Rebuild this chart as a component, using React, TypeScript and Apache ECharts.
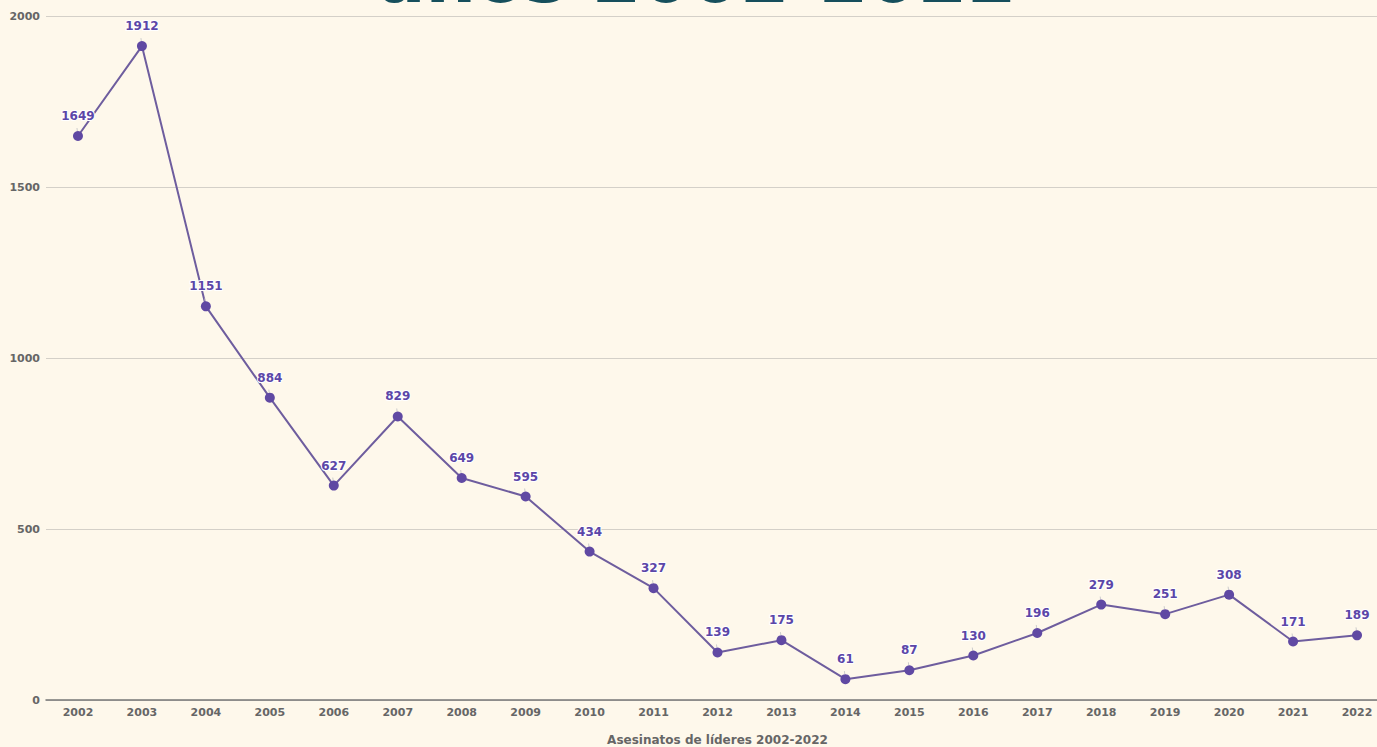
import React, { useEffect, useRef } from "react";
import * as echarts from "echarts";

const years = ["2002","2003","2004","2005","2006","2007","2008","2009","2010","2011","2012","2013","2014","2015","2016","2017","2018","2019","2020","2021","2022"];
const asesinatos = [1649,1912,1151,884,627,829,649,595,434,327,139,175,61,87,130,196,279,251,308,171,189];
const titleText = "años 2002-2022";
const xAxisName = "Asesinatos de líderes 2002-2022";

export default function App() {
  const ref = useRef<HTMLDivElement>(null);
  useEffect(() => {
    if (!ref.current) return;
    const chart = echarts.init(ref.current, undefined, { renderer: "svg" });
    chart.setOption({
      animation: false,
      backgroundColor: "#fef8eb",
      textStyle: { fontFamily: "DejaVu Sans" },
      graphic: [
        {
          type: "text",
          x: 697,
          y: 13,
          z: 100,
          style: {
            text: titleText,
            fontSize: 71,
            fontWeight: "bold",
            fontFamily: "DejaVu Sans",
            fill: "#164f5c",
            align: "center",
            verticalAlign: "bottom",
          },
        },
      ],
      grid: { left: 46, right: 0, top: 16, bottom: 47, containLabel: false, outerBoundsMode: "none" },
      xAxis: {
        type: "category",
        data: years,
        boundaryGap: true,
        name: xAxisName,
        nameLocation: "middle",
        nameGap: 34,
        nameTextStyle: { color: "#666", fontWeight: "bold", fontSize: 12 },
        axisLine: { lineStyle: { color: "#777", width: 1.5 } },
        axisTick: { show: false },
        axisLabel: { color: "#666", fontWeight: "bold", fontSize: 11, margin: 7 },
      },
      yAxis: {
        type: "value",
        min: 0,
        max: 2000,
        interval: 500,
        axisLine: { show: false },
        axisTick: { show: false },
        splitLine: { lineStyle: { color: "#d4d0c8" } },
        axisLabel: { color: "#666", fontWeight: "bold", fontSize: 11, margin: 6, formatter: (v: number) => String(v) },
      },
      series: [
        {
          type: "line",
          data: asesinatos,
          symbol: "circle",
          symbolSize: 10,
          lineStyle: { color: "#6e5d9e", width: 2 },
          itemStyle: { color: "#6049a3" },
          label: {
            show: true,
            position: "top",
            distance: 9,
            color: "#5b46a8",
            fontWeight: "bold",
            fontSize: 12,
            textBorderColor: "#fff",
            textBorderWidth: 2,
          },
          labelLine: { show: true, lineStyle: { color: "#ccc", width: 1 } },
        },
      ],
    });
    return () => chart.dispose();
  }, []);
  return <div ref={ref} style={{ position: "fixed", left: 0, top: 0, width: 1389, height: 747 }} />;
}
